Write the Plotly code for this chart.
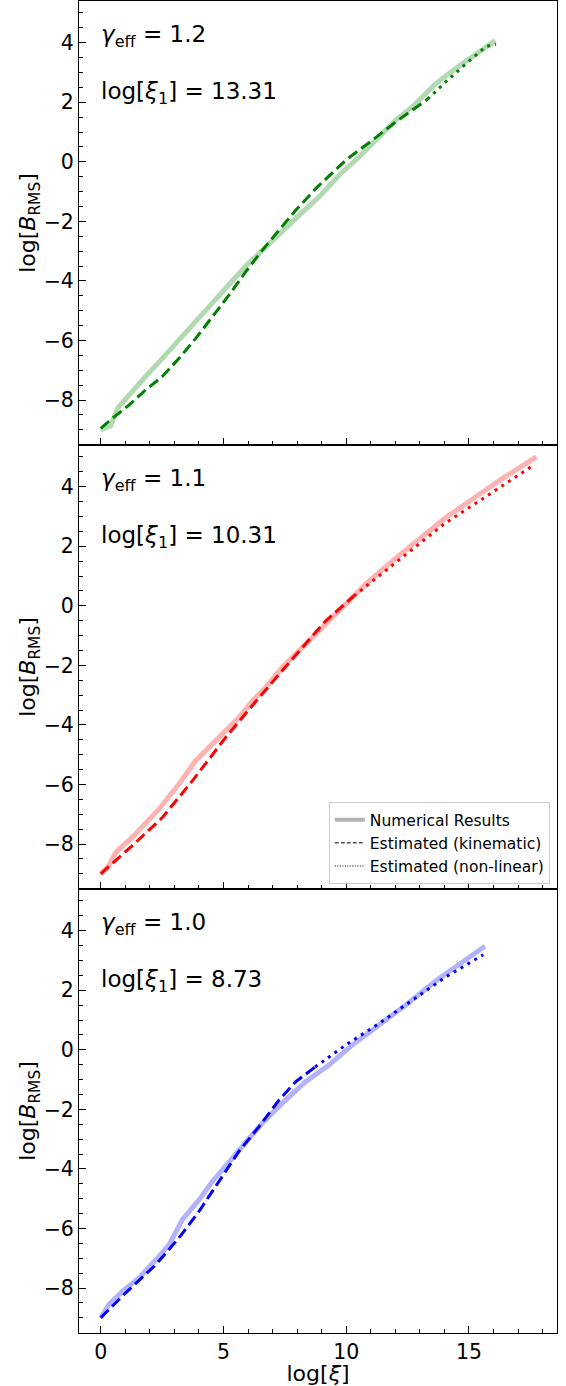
import plotly.graph_objects as go
from plotly.subplots import make_subplots

# ---------------- data ----------------
# Panel 1: gamma_eff = 1.2, log xi_1 = 13.31
num_x_12 = [0.0, 0.41, 0.68, 1.15, 1.83, 2.51, 3.06, 3.87, 4.42, 4.96, 5.50, 5.91, 6.52, 7.27, 7.95, 8.90,
            9.71, 10.39, 11.07, 12.02, 12.70, 12.98, 13.66, 14.47, 15.15, 16.07]
num_y_12 = [-9.00, -8.87, -8.28, -7.83, -7.21, -6.60, -6.10, -5.35, -4.90, -4.40, -3.90, -3.50, -3.02, -2.46, -1.90, -1.17,
            -0.45, 0.06, 0.62, 1.40, 1.85, 2.07, 2.63, 3.14, 3.53, 4.07]
kin_x_12 = [0.0, 0.48, 1.15, 1.83, 2.51, 3.19, 3.87, 4.55, 5.23, 5.91, 6.59, 7.27, 7.95, 8.83, 9.99, 11.07, 12.02, 13.31]
kin_y_12 = [-8.95, -8.61, -8.17, -7.66, -7.21, -6.60, -5.93, -5.20, -4.47, -3.69, -2.96, -2.29, -1.62, -0.84,
            0.06, 0.73, 1.34, 2.10]
nl_x_12 = [13.31, 14.06, 14.74, 15.69, 16.10]
nl_y_12 = [2.10, 2.69, 3.19, 3.87, 3.95]

# Panel 2: gamma_eff = 1.1, log xi_1 = 10.31
num_x_11 = [0.0, 0.34, 0.61, 1.29, 2.37, 3.18, 3.86, 4.81, 5.62, 6.17, 6.71, 7.38, 8.33, 9.15,
            9.96, 10.77, 11.86, 12.80, 14.02, 15.38, 16.46, 17.75]
num_y_11 = [-9.00, -8.72, -8.28, -7.77, -6.83, -5.99, -5.21, -4.43, -3.76, -3.20, -2.75, -2.08, -1.30, -0.58,
            0.04, 0.71, 1.49, 2.10, 2.94, 3.72, 4.33, 5.00]
kin_x_11 = [0.0, 1.29, 2.51, 3.73, 5.08, 6.44, 7.79, 9.15, 10.31]
kin_y_11 = [-9.00, -8.05, -7.11, -5.88, -4.43, -3.09, -1.80, -0.52, 0.33]
nl_x_11 = [10.31, 11.31, 12.67, 14.02, 15.38, 16.73, 17.68]
nl_y_11 = [0.33, 0.99, 1.88, 2.77, 3.50, 4.22, 4.75]

# Panel 3: gamma_eff = 1.0, log xi_1 = 8.73
num_x_10 = [0.0, 0.34, 0.88, 1.56, 2.37, 2.78, 3.32, 4.00, 4.54, 5.22, 5.89, 6.57, 7.38, 8.33,
            9.28, 10.23, 11.31, 12.40, 13.75, 14.84, 15.65]
num_y_10 = [-9.00, -8.55, -8.11, -7.66, -6.94, -6.55, -5.71, -5.04, -4.43, -3.76, -3.14, -2.47, -1.80, -1.08,
            -0.52, 0.15, 0.82, 1.49, 2.38, 3.00, 3.48]
kin_x_10 = [0.0, 1.02, 2.24, 3.18, 4.00, 4.81, 5.62, 6.44, 7.25, 7.93, 8.73]
kin_y_10 = [-9.00, -8.16, -7.22, -6.32, -5.43, -4.43, -3.42, -2.59, -1.70, -1.08, -0.58]
nl_x_10 = [8.73, 9.96, 11.31, 12.67, 14.02, 15.58]
nl_y_10 = [-0.58, 0.15, 0.87, 1.65, 2.43, 3.19]

gammas = ["1.2", "1.1", "1.0"]
log_xi1 = ["13.31", "10.31", "8.73"]

x_tickvals = [0, 5, 10, 15]
x_ticktext = ["0", "5", "10", "15"]
y_tickvals = [-8, -6, -4, -2, 0, 2, 4]
y_ticktext = ["\u22128", "\u22126", "\u22124", "\u22122", "0", "2", "4"]

x_range = [-0.885, 18.585]
y_range = [-9.51, 5.40]

panels = [
    (num_x_12, num_y_12, kin_x_12, kin_y_12, nl_x_12, nl_y_12, "#008000", "rgba(0,128,0,0.3)"),
    (num_x_11, num_y_11, kin_x_11, kin_y_11, nl_x_11, nl_y_11, "#ff0000", "rgba(255,0,0,0.3)"),
    (num_x_10, num_y_10, kin_x_10, kin_y_10, nl_x_10, nl_y_10, "#0000ff", "rgba(0,0,255,0.3)"),
]

FONT = "DejaVu Sans"

fig = make_subplots(rows=3, cols=1, shared_xaxes=True, vertical_spacing=0)

for i, (nx, ny, kx, ky, lx, ly, col, light) in enumerate(panels):
    r = i + 1
    fig.add_trace(go.Scatter(x=nx, y=ny, mode="lines", line=dict(color=light, width=5),
                             showlegend=False, hoverinfo="skip"), row=r, col=1)
    fig.add_trace(go.Scatter(x=kx, y=ky, mode="lines", line=dict(color=col, width=3, dash="11px,5px"),
                             showlegend=False, hoverinfo="skip"), row=r, col=1)
    fig.add_trace(go.Scatter(x=lx, y=ly, mode="lines", line=dict(color=col, width=3, dash="3px,5px"),
                             showlegend=False, hoverinfo="skip"), row=r, col=1)

# legend proxies (in panel 2)
fig.add_trace(go.Scatter(x=[None], y=[None], mode="lines", name="Numerical Results",
                         line=dict(color="rgba(128,128,128,0.6)", width=4)), row=2, col=1)
fig.add_trace(go.Scatter(x=[None], y=[None], mode="lines", name="Estimated (kinematic)",
                         line=dict(color="black", width=1, dash="4px,2px")), row=2, col=1)
fig.add_trace(go.Scatter(x=[None], y=[None], mode="lines", name="Estimated (non-linear)",
                         line=dict(color="black", width=1, dash="1px,1.5px")), row=2, col=1)

axis_common = dict(showline=True, linecolor="black", linewidth=1, mirror=True,
                   ticks="inside", ticklen=7, tickwidth=1, tickcolor="black",
                   showgrid=False, zeroline=False,
                   tickfont=dict(family=FONT, size=20.5, color="black"))

for r in range(1, 4):
    fig.update_xaxes(range=x_range, tickvals=x_tickvals, ticktext=x_ticktext,
                     minor=dict(ticks="inside", ticklen=4, tickwidth=1, tickcolor="black", dtick=1, tick0=0),
                     showticklabels=(r == 3), row=r, col=1, **axis_common)
    fig.update_yaxes(range=y_range, tickvals=y_tickvals, ticktext=y_ticktext,
                     minor=dict(ticks="inside", ticklen=4, tickwidth=1, tickcolor="black", dtick=0.5, tick0=0),
                     title=dict(text="log[<i>B</i><sub>RMS</sub>]", font=dict(family=FONT, size=22, color="black"),
                                standoff=0),
                     row=r, col=1, **axis_common)

fig.update_xaxes(title=dict(text="log[<i>\u03be</i>]", font=dict(family=FONT, size=22, color="black"), standoff=0),
                 row=3, col=1)

for i in range(3):
    xref = "x domain" if i == 0 else f"x{i+1} domain"
    yref = "y domain" if i == 0 else f"y{i+1} domain"
    fig.add_annotation(x=0.042, y=0.921, xref=xref, yref=yref, xanchor="left", yanchor="middle",
                       text=f"<i>\u03b3</i><sub>eff</sub> = {gammas[i]}", showarrow=False,
                       font=dict(family=FONT, size=23, color="black"))
    fig.add_annotation(x=0.042, y=0.793, xref=xref, yref=yref, xanchor="left", yanchor="middle",
                       text=f"log[<i>\u03be</i><sub>1</sub>] = {log_xi1[i]}", showarrow=False,
                       font=dict(family=FONT, size=23, color="black"))

fig.update_layout(
    width=566, height=1386,
    margin=dict(l=79, r=9, t=1, b=53),
    plot_bgcolor="white", paper_bgcolor="white",
    legend=dict(x=0.985, y=0.337, xanchor="right", yanchor="bottom",
                bgcolor="rgba(255,255,255,0.8)", bordercolor="#cccccc", borderwidth=1,
                font=dict(family=FONT, size=15.5, color="black")),
    font=dict(family=FONT, color="black"),
)

fig.write_html("out.html")
